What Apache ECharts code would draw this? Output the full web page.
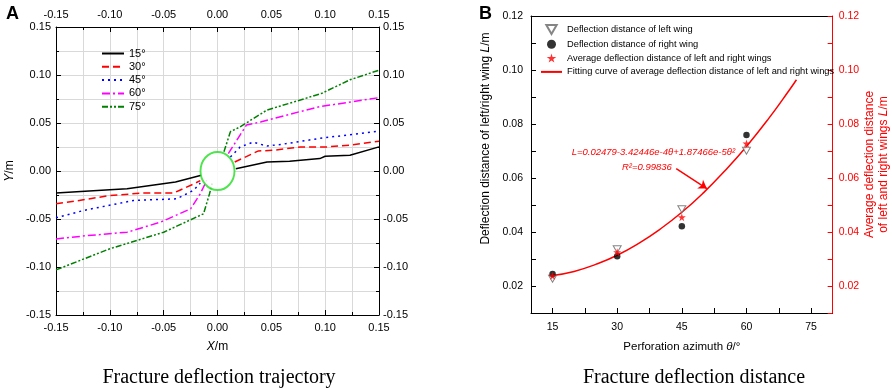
<!DOCTYPE html>
<html>
<head>
<meta charset="utf-8">
<script src="https://cdn.jsdelivr.net/npm/echarts@6.0.0/dist/echarts.min.js"></script>
<style>
  html, body { margin: 0; padding: 0; background: #fff; }
  #main { width: 892px; height: 388px; }
</style>
</head>
<body>
<div id="main"></div>
<script>
// ---- panel A: fracture trajectories (left wing / right wing) ----
const angleNames = ['15°', '30°', '45°', '60°', '75°'];

const x15L = [-0.150, -0.100, -0.084, -0.039, -0.015];
const y15L = [-0.0230, -0.0195, -0.0185, -0.0115, -0.0045];
const x15R = [0.017, 0.046, 0.067, 0.095, 0.100, 0.123, 0.150];
const y15R = [0.0024, 0.0094, 0.0101, 0.0129, 0.0153, 0.0164, 0.0251];

const x30L = [-0.150, -0.130, -0.100, -0.069, -0.041, -0.035, -0.022, -0.016];
const y30L = [-0.0340, -0.0310, -0.0255, -0.0230, -0.0230, -0.0200, -0.0135, -0.0100];
const x30R = [0.016, 0.038, 0.052, 0.077, 0.101, 0.123, 0.150];
const y30R = [0.0094, 0.0209, 0.0216, 0.0250, 0.0250, 0.0270, 0.0310];

const x45L = [-0.150, -0.124, -0.078, -0.038, -0.022, -0.016];
const y45L = [-0.0488, -0.0410, -0.0307, -0.0290, -0.0200, -0.0125];
const x45R = [0.012, 0.021, 0.033, 0.046, 0.061, 0.095, 0.150];
const y45R = [0.0146, 0.0250, 0.0300, 0.0260, 0.0280, 0.0340, 0.0415];

const x60L = [-0.150, -0.121, -0.084, -0.053, -0.025, -0.016, -0.010];
const y60L = [-0.0708, -0.0673, -0.0638, -0.0533, -0.0394, -0.0237, -0.0097];
const x60R = [0.010, 0.027, 0.040, 0.077, 0.095, 0.150];
const y60R = [0.0180, 0.0480, 0.0510, 0.0620, 0.0670, 0.0764];

const x75L = [-0.150, -0.100, -0.050, -0.013, -0.0074, -0.005];
const y75L = [-0.1030, -0.0810, -0.0638, -0.0446, -0.0237, -0.0130];
const x75R = [0.006, 0.012, 0.021, 0.046, 0.077, 0.097, 0.123, 0.150];
const y75R = [0.0200, 0.0410, 0.0460, 0.0635, 0.0740, 0.0810, 0.0950, 0.1050];

const holeCenter = [[0, 0]];

// ---- panel B: deflection distance vs perforation azimuth ----
const azimuths = [15, 30, 45, 60];
const leftWing = [0.0227, 0.0336, 0.0484, 0.0701];
const rightWing = [0.0244, 0.0310, 0.0421, 0.0759];
const avgWing = [0.0238, 0.0325, 0.0455, 0.0728];
const fitAngles = [15, 20, 25, 30, 35, 40, 45, 50, 55, 60, 65, 70, 71.6];
const fitValues = [0.0239, 0.0254, 0.0280, 0.0314, 0.0358, 0.0411, 0.0473, 0.0545, 0.0627, 0.0717, 0.0817, 0.0927, 0.0964];

const bxLabels = [15, 30, 45, 60, 75];
const bxTicks = [15, 22.5, 30, 37.5, 45, 52.5, 60, 67.5, 75];
const byLabels = [0.02, 0.04, 0.06, 0.08, 0.10, 0.12];
const byTicks = [0.01, 0.02, 0.03, 0.04, 0.05, 0.06, 0.07, 0.08, 0.09, 0.10, 0.11, 0.12];

const eqnAt = [38.4, 0.0694];
const r2At = [36.9, 0.0638];
const arrowFrom = [43.7, 0.0635];
const arrowTo = [50.8, 0.0561];

const SANS = 'Liberation Sans, Arial, sans-serif';
const SERIF = 'Liberation Serif, Times New Roman, serif';

function pairs(xs, ys) {
  return xs.map((x, i) => [x, ys[i]]);
}
function curve(xl, yl, xr, yr) {
  // left wing, gap, right wing
  return pairs(xl, yl).concat([[null, null]], pairs(xr, yr));
}
function fmt2(v) {
  if (Math.abs(v) < 1e-9) return '0.00';
  return v.toFixed(2);
}

const lineColors = ['#000000', '#ff0000', '#0000ff', '#ff00ff', '#008000'];
const lineDash = ['solid', [7, 4], [2, 4], [8, 3, 2, 3], [6, 2, 2, 2, 2, 2]];
const curvesA = [
  curve(x15L, y15L, x15R, y15R),
  curve(x30L, y30L, x30R, y30R),
  curve(x45L, y45L, x45R, y45R),
  curve(x60L, y60L, x60R, y60R),
  curve(x75L, y75L, x75R, y75R)
];

const gridLine = { show: true, lineStyle: { color: '#d9d9d9', width: 1 } };

function axisA(pos, isX) {
  return {
    type: 'value',
    gridIndex: 0,
    position: pos,
    min: -0.15,
    max: 0.15,
    interval: 0.05,
    axisLine: { show: true, onZero: false, lineStyle: { color: '#000', width: 1 } },
    axisTick: { show: true, inside: true, length: 5, lineStyle: { color: '#000' } },
    minorTick: { show: true, splitNumber: 2, length: 3, lineStyle: { color: '#000' } },
    splitLine: (pos === 'bottom' || pos === 'left') ? gridLine : { show: false },
    minorSplitLine: (pos === 'bottom' || pos === 'left') ? gridLine : { show: false },
    axisLabel: {
      formatter: fmt2,
      fontSize: 11,
      fontFamily: SANS,
      color: '#000',
      margin: isX ? 7 : 5
    }
  };
}

const seriesA = curvesA.map((d, i) => ({
  name: angleNames[i],
  type: 'line',
  xAxisIndex: 0,
  yAxisIndex: 0,
  data: d,
  symbol: 'none',
  connectNulls: false,
  lineStyle: { color: lineColors[i], width: 1.5, type: lineDash[i] },
  itemStyle: { color: lineColors[i] },
  z: 3
}));

seriesA.push({
  name: 'hole',
  type: 'scatter',
  xAxisIndex: 0,
  yAxisIndex: 0,
  data: holeCenter,
  symbol: 'circle',
  symbolSize: [34, 38],
  itemStyle: { color: '#ffffff', borderColor: '#22dd22', borderWidth: 2 },
  z: 5,
  silent: true
});

const STAR = 'path://M50,0 L61,35 L98,35 L68,57 L79,91 L50,70 L21,91 L32,57 L2,35 L39,35 Z';
const TRI_DOWN = 'path://M0,0 L10,0 L5,8.7 Z';

const namesB = [
  'Deflection distance of left wing',
  'Deflection distance of right wing',
  'Average deflection distance of left and right wings',
  'Fitting curve of average deflection distance of left and right wings'
];

const seriesB = [
  {
    name: namesB[3],
    type: 'line',
    xAxisIndex: 2,
    yAxisIndex: 2,
    data: pairs(fitAngles, fitValues),
    smooth: true,
    symbol: 'none',
    lineStyle: { color: '#ff0000', width: 1.5 },
    itemStyle: { color: '#ff0000' },
    z: 2,
    markLine: {
      silent: true,
      symbol: ['none', 'arrow'],
      symbolSize: 8,
      label: { show: false },
      lineStyle: { color: '#ff0000', width: 1.5, type: 'solid' },
      data: [[{ coord: arrowFrom }, { coord: arrowTo }]]
    },
    markPoint: {
      silent: true,
      symbol: 'circle',
      symbolSize: 0,
      label: {
        show: true,
        position: 'inside',
        color: '#ff0000',
        fontStyle: 'italic',
        fontSize: 9.5,
        fontFamily: SANS
      },
      data: [
        { coord: eqnAt, label: { formatter: 'L=0.02479-3.42446e-4θ+1.87466e-5θ²' } },
        { coord: r2At, label: { formatter: 'R²=0.99836' } }
      ]
    }
  },
  {
    name: namesB[0],
    type: 'scatter',
    xAxisIndex: 2,
    yAxisIndex: 2,
    data: pairs(azimuths, leftWing),
    symbol: TRI_DOWN,
    symbolSize: [8, 7],
    itemStyle: { color: '#ffffff', borderColor: '#666666', borderWidth: 1 },
    z: 3
  },
  {
    name: namesB[1],
    type: 'scatter',
    xAxisIndex: 2,
    yAxisIndex: 2,
    data: pairs(azimuths, rightWing),
    symbol: 'circle',
    symbolSize: 6.5,
    itemStyle: { color: '#000000' },
    z: 4
  },
  {
    name: namesB[2],
    type: 'scatter',
    xAxisIndex: 2,
    yAxisIndex: 2,
    data: pairs(azimuths, avgWing),
    symbol: STAR,
    symbolSize: 8,
    itemStyle: { color: '#ff0000' },
    z: 5
  }
];

const option = {
  backgroundColor: '#ffffff',
  animation: false,
  title: [
    { text: 'A', left: 1, top: 0, textStyle: { fontFamily: SANS, fontSize: 18, fontWeight: 'bold', color: '#000' } },
    { text: 'B', left: 474, top: 0, textStyle: { fontFamily: SANS, fontSize: 18, fontWeight: 'bold', color: '#000' } },
    { text: 'Fracture deflection trajectory', left: 214, top: 363, textAlign: 'center',
      textStyle: { fontFamily: SERIF, fontSize: 20, fontWeight: 'normal', color: '#000' } },
    { text: 'Fracture deflection distance', left: 689, top: 363, textAlign: 'center',
      textStyle: { fontFamily: SERIF, fontSize: 20, fontWeight: 'normal', color: '#000' } }
  ],
  legend: [
    {
      data: angleNames,
      left: 101,
      top: 48,
      padding: 0,
      orient: 'vertical',
      itemWidth: 22,
      itemHeight: 10,
      itemGap: 2.3,
      itemStyle: { opacity: 0 },
      textStyle: { fontSize: 11, fontFamily: SANS, color: '#000' },
      selectedMode: false
    },
    {
      data: [
        { name: namesB[0] },
        { name: namesB[1] },
        { name: namesB[2] },
        { name: namesB[3], itemStyle: { opacity: 0 } }
      ],
      left: 540,
      top: 24,
      padding: 0,
      orient: 'vertical',
      itemWidth: 21,
      itemHeight: 9,
      itemGap: 4.8,
      symbolKeepAspect: true,
      textStyle: { fontSize: 9.3, fontFamily: SANS, color: '#000' },
      selectedMode: false
    }
  ],
  grid: [
    { left: 56, right: 513, top: 27, bottom: 73 },
    { left: 531, right: 57, top: 16, bottom: 75 }
  ],
  xAxis: [
    Object.assign(axisA('bottom', true), {
      name: '{i|X}/m',
      nameLocation: 'middle',
      nameGap: 26,
      nameTextStyle: { fontSize: 12, fontFamily: SANS, color: '#000', rich: { i: { fontStyle: 'italic', fontSize: 12, fontFamily: SANS } } }
    }),
    axisA('top', true),
    {
      type: 'value',
      gridIndex: 1,
      position: 'bottom',
      min: 10,
      max: 80,
      axisLine: { show: true, onZero: false, lineStyle: { color: '#000', width: 1 } },
      axisTick: { show: true, inside: true, length: 5, customValues: bxTicks, lineStyle: { color: '#000' } },
      axisLabel: { customValues: bxLabels, fontSize: 10.5, fontFamily: SANS, color: '#000', margin: 9 },
      splitLine: { show: false },
      name: 'Perforation azimuth {i|θ}/°',
      nameLocation: 'middle',
      nameGap: 28,
      nameTextStyle: { fontSize: 11.5, fontFamily: SANS, color: '#000', rich: { i: { fontStyle: 'italic', fontSize: 11.5, fontFamily: SANS } } }
    },
    {
      type: 'value',
      gridIndex: 1,
      position: 'top',
      min: 10,
      max: 80,
      axisLine: { show: true, onZero: false, lineStyle: { color: '#000', width: 1 } },
      axisTick: { show: false },
      axisLabel: { show: false },
      splitLine: { show: false }
    }
  ],
  yAxis: [
    Object.assign(axisA('left', false), {
      name: '{i|Y}/m',
      nameLocation: 'middle',
      nameGap: 40,
      nameRotate: 90,
      nameTextStyle: { fontSize: 12, fontFamily: SANS, color: '#000', rich: { i: { fontStyle: 'italic', fontSize: 12, fontFamily: SANS } } }
    }),
    Object.assign(axisA('right', false), { axisLabel: { formatter: fmt2, fontSize: 11, fontFamily: SANS, color: '#000', margin: 4 } }),
    {
      type: 'value',
      gridIndex: 1,
      position: 'left',
      min: 0.01,
      max: 0.12,
      axisLine: { show: true, onZero: false, lineStyle: { color: '#000', width: 1 } },
      axisTick: { show: true, inside: true, length: 5, customValues: byTicks, lineStyle: { color: '#000' } },
      axisLabel: { customValues: byLabels, formatter: fmt2, fontSize: 10.5, fontFamily: SANS, color: '#000', margin: 8 },
      splitLine: { show: false },
      name: 'Deflection distance of left/right wing {i|L}/m',
      nameLocation: 'middle',
      nameGap: 39,
      nameRotate: 90,
      nameTextStyle: { fontSize: 12, fontFamily: SANS, color: '#000', padding: [0, 0, 0, 52],
        rich: { i: { fontStyle: 'italic', fontSize: 12, fontFamily: SANS } } }
    },
    {
      type: 'value',
      gridIndex: 1,
      position: 'right',
      min: 0.01,
      max: 0.12,
      axisLine: { show: true, onZero: false, lineStyle: { color: '#ff0000', width: 1 } },
      axisTick: { show: true, inside: true, length: 5, customValues: byTicks, lineStyle: { color: '#ff0000' } },
      axisLabel: { customValues: byLabels, formatter: fmt2, fontSize: 10.5, fontFamily: SANS, color: '#ff0000', margin: 6 },
      splitLine: { show: false },
      name: 'Average deflection distance\nof left and right wings {i|L}/m',
      nameLocation: 'middle',
      nameGap: 30,
      nameRotate: 90,
      nameTextStyle: { fontSize: 12, fontFamily: SANS, color: '#ff0000', lineHeight: 14,
        rich: { i: { fontStyle: 'italic', fontSize: 12, fontFamily: SANS, color: '#ff0000' } } }
    }
  ],
  series: seriesA.concat(seriesB)
};

const myChart = echarts.init(document.getElementById('main'));
myChart.setOption(option);
window.addEventListener('resize', function () {
  myChart.resize();
});
</script>
</body>
</html>
